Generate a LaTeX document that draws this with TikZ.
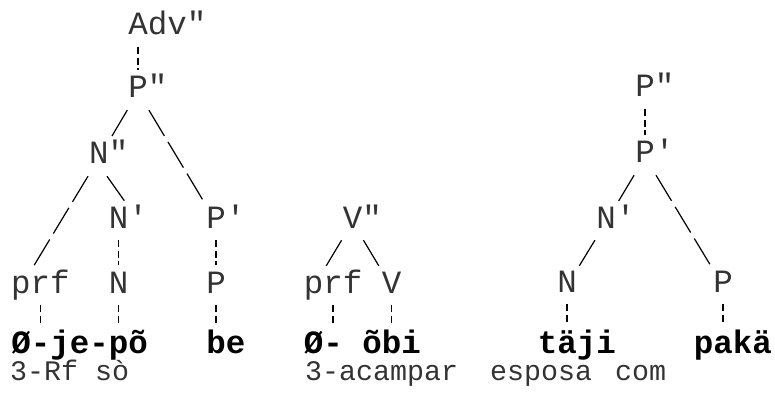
\documentclass[tikz,border=0pt]{standalone}
\usepackage{fontspec}
\newfontfamily\maquina{Liberation Mono}

\begin{document}
\begin{tikzpicture}[x=1pt, y=-1pt,
	etiqueta/.style={font=\maquina\fontsize{32.5}{32.5}\selectfont, text=black!80,
		text height=18pt, text depth=6pt, inner sep=6pt, anchor=base},
	palabra/.style={font=\maquina\bfseries\fontsize{32.5}{32.5}\selectfont,
		text height=18pt, text depth=6pt, inner xsep=0pt, inner ysep=6pt, anchor=base west},
	glosa/.style={font=\maquina\fontsize{28.3}{28.3}\selectfont, text=black!80,
		inner sep=0pt, anchor=base west},
	rama/.style={line width=1.2pt, dash pattern=on 30pt off 7pt},
	enlace/.style={line width=1.1pt, dash pattern=on 7pt off 3.5pt, shorten >=4pt}]
	
	% Rejilla de máquina de escribir: columnas y renglones
	\def\paso{19.5}    % ancho de una columna
	\def\xo{21}        % centro de la columna 0
	\def\filaA{35}     % Adv''
	\def\filaB{98}     % P''
	\def\filaC{164}    % N'', P'
	\def\filaD{228}    % N', P', V''
	\def\filaE{293}    % prf, N, P, V
	\def\filaF{353}    % palabras
	\def\filaG{380}    % glosas
	
	\useasboundingbox (0,0) rectangle (775,398);
	
	% --- 1. ÁRBOL DE Adv'' ---
	\node[etiqueta] (adv)  at (\xo+6*\paso, \filaA) {A\rlap{dv"}};
	\node[etiqueta] (ppA)  at (\xo+6*\paso, \filaB) {P\rlap{"}};
	\node[etiqueta] (nnA)  at (\xo+4*\paso, \filaC) {N\rlap{"}};
	\node[etiqueta] (nA)   at (\xo+5*\paso, \filaD) {N\rlap{'}};
	\node[etiqueta] (pA)   at (\xo+10*\paso, \filaD) {P\rlap{'}};
	\node[etiqueta] (prfA) at (\xo, \filaE) {p\rlap{rf}};
	\node[etiqueta] (nucA) at (\xo+5*\paso, \filaE) {N};
	\node[etiqueta] (posA) at (\xo+10*\paso, \filaE) {P};
	
	\draw[enlace] (adv) -- (ppA);
	\draw[rama] (ppA) -- (nnA);
	\draw[rama] (ppA) -- (pA);
	\draw[rama] (nnA) -- (prfA);
	\draw[rama] ([xshift=8]nnA.south) -- ([xshift=8]nA.north);
	\draw[enlace] (nA) -- (nucA);
	\draw[enlace] (pA) -- (posA);
	
	% --- 2. ÁRBOL DE V'' ---
	\node[etiqueta] (vvB)  at (\xo+17*\paso, \filaD) {V\rlap{"}};
	\node[etiqueta] (prfB) at (\xo+15*\paso, \filaE) {p\rlap{rf}};
	\node[etiqueta] (vB)   at (\xo+19*\paso, \filaE) {V};
	
	\draw[rama] (vvB) -- (prfB);
	\draw[rama] (vvB) -- (vB);
	
	% --- 3. ÁRBOL DE P'' ---
	\node[etiqueta] (ppC)  at (\xo+32*\paso, \filaB-1) {P\rlap{"}};
	\node[etiqueta] (pC)   at (\xo+32*\paso, \filaC-1) {P\rlap{'}};
	\node[etiqueta] (nC)   at (\xo+30*\paso, \filaD) {N\rlap{'}};
	\node[etiqueta] (nucC) at (\xo+28*\paso, \filaE-1) {N};
	\node[etiqueta] (posC) at (\xo+36*\paso, \filaE-1) {P};
	
	\draw[enlace] (ppC) -- (pC);
	\draw[rama] (pC) -- (nC);
	\draw[rama] (pC) -- (posC);
	\draw[rama] (nC) -- (nucC);
	
	% --- 4. PALABRAS Y GLOSAS ---
	\node[palabra] (w1) at (\xo-\paso/2, \filaF) {Ø-je-põ};
	\node[palabra] (w2) at (\xo+9.5*\paso, \filaF) {be};
	\node[palabra] (w3) at (\xo+14.5*\paso, \filaF) {Ø- õbi};
	\node[palabra] (w4) at (\xo+26.5*\paso, \filaF) {täji};
	\node[palabra] (w5) at (\xo+34.5*\paso, \filaF) {pakä};
	
	\node[glosa] (g1) at (10, \filaG) {3-Rf sò};
	\node[glosa] (g3) at (305, \filaG) {3-acampar};
	\node[glosa] (g4) at (490, \filaG) {esposa};
	\node[glosa] (g5) at (615, \filaG) {com};
	
	% Enlaces verticales hasta las palabras
	\draw[enlace] ([xshift=\paso]prfA.south) -- ([xshift=\paso]prfA.south |- w1.north);
	\draw[enlace] (nucA) -- (nucA |- w1.north);
	\draw[enlace] (posA) -- (posA |- w2.north);
	\draw[enlace] ([xshift=\paso]prfB.south) -- ([xshift=\paso]prfB.south |- w3.north);
	\draw[enlace] (vB) -- (vB |- w3.north);
	\draw[enlace] (nucC) -- (nucC |- w4.north);
	\draw[enlace] (posC) -- (posC |- w5.north);
	
\end{tikzpicture}
\end{document}
